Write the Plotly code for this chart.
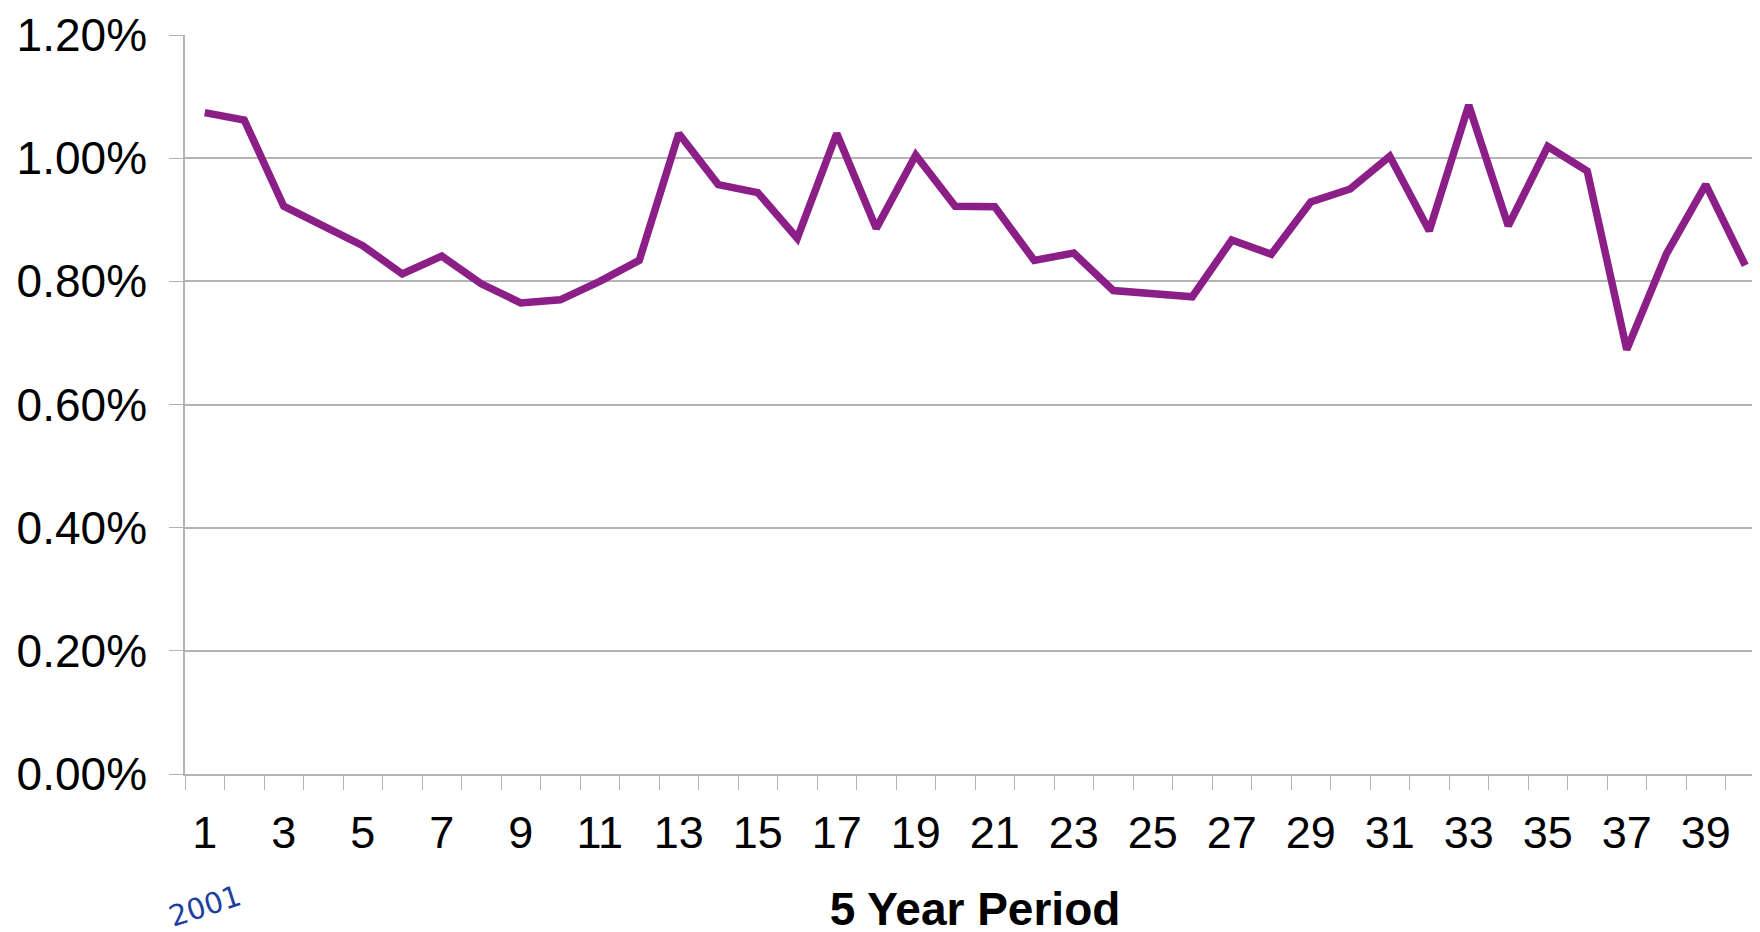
import plotly.graph_objects as go

periods = list(range(1, 41))
values_pct = [
    1.074, 1.062, 0.922, 0.890, 0.858, 0.812, 0.841, 0.796, 0.765, 0.770,
    0.800, 0.834, 1.040, 0.957, 0.944, 0.870, 1.040, 0.886, 1.005, 0.922,
    0.921, 0.834, 0.846, 0.785, 0.780, 0.775, 0.867, 0.844, 0.929, 0.950,
    1.003, 0.882, 1.086, 0.890, 1.019, 0.979, 0.689, 0.844, 0.957, 0.826,
]
values = [v / 100 for v in values_pct]
x_tick_vals = list(range(1, 40, 2))
x_tick_text = [str(v) for v in x_tick_vals]
y_tick_vals = [0, 0.002, 0.004, 0.006, 0.008, 0.010, 0.012]
x_title = "5 Year Period"
note_text = "2001"

FONT = "Liberation Sans, Arial, sans-serif"
GRID = "#b4b4b4"

fig = go.Figure()
fig.add_trace(go.Scatter(
    x=periods, y=values, mode="lines",
    line=dict(color="#8c1f87", width=7.5),
    showlegend=False, hoverinfo="skip",
))

fig.update_layout(
    width=1760, height=932,
    margin=dict(l=177, r=3, t=27, b=166),
    paper_bgcolor="white", plot_bgcolor="white",
    font=dict(family=FONT, color="black"),
    xaxis=dict(
        range=[0.5, 40.5],
        tickmode="array", tickvals=x_tick_vals, ticktext=x_tick_text,
        ticks="outside", ticklen=18, tickcolor="rgba(0,0,0,0)",
        tickfont=dict(size=45, family=FONT, color="black"),
        showgrid=False, zeroline=False,
        showline=True, linecolor=GRID, linewidth=1.5,
        minor=dict(tickmode="linear", tick0=0.5, dtick=1,
                   ticks="outside", ticklen=14, tickcolor=GRID, tickwidth=1.2),
        title=dict(text="<b>" + x_title + "</b>",
                   font=dict(size=46, family=FONT, color="black"),
                   standoff=36),
        automargin=False,
    ),
    yaxis=dict(
        range=[0, 0.0120001],
        tickmode="array", tickvals=y_tick_vals,
        tickformat=".2%",
        ticks="outside", ticklen=14, tickcolor=GRID, tickwidth=1.2,
        ticklabelstandoff=13,
        ticklabeloverflow="allow",
        tickfont=dict(size=46, family=FONT, color="black"),
        showgrid=True, gridcolor=GRID, gridwidth=1.5,
        zeroline=False,
        showline=True, linecolor=GRID, linewidth=1.5,
        automargin=False,
    ),
    annotations=[dict(
        text=note_text, xref="paper", yref="paper",
        x=(197 - 177) / 1580, y=-(898 - 766) / 739,
        xanchor="center", yanchor="middle", showarrow=False,
        textangle=-18,
        font=dict(size=29, family="DejaVu Sans", color="#1f3fa0"),
    )],
)

fig.write_html("out.html")
